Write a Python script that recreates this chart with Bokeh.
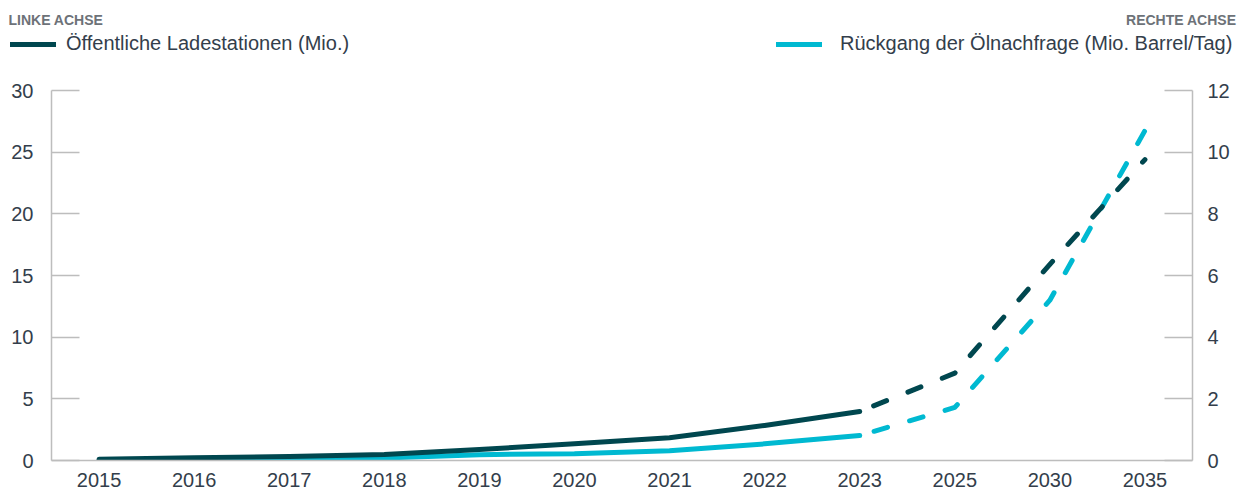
from bokeh.plotting import figure
from bokeh.layouts import column
from bokeh.models import (Range1d, LinearAxis, FixedTicker, Label, Legend,
                          LegendItem, FactorRange)
from bokeh.embed import file_html
from bokeh.resources import INLINE

# ---------------- data ----------------
years = ["2015", "2016", "2017", "2018", "2019", "2020", "2021", "2022",
         "2023", "2025", "2030", "2035"]
# left axis: public charging stations (millions)
stations = [0.1, 0.22, 0.33, 0.49, 0.89, 1.35, 1.84, 2.84, 3.97, 7.08, 15.9, 24.4]
# right axis: decline in oil demand (million barrels/day)
oil_decline = [0.0, 0.02, 0.05, 0.08, 0.19, 0.22, 0.32, 0.54, 0.81, 1.72, 5.2, 10.7]
last_actual = "2023"
left_ticks = [0, 5, 10, 15, 20, 25, 30]
right_ticks = [0, 2, 4, 6, 8, 10, 12]

# ---------------- style ----------------
DARK = "#00474f"
CYAN = "#00b9d1"
TEXT = "#333e4b"
HEAD = "#6d7278"
AXIS = "#bdbdbd"
FONT = "Liberation Sans"

W = 1238
HT = 70           # header / legend strip
HM = 489 - HT     # main chart
BL, BR, BT, BB = 51, 46, 20, 29

# ---------------- header strip ----------------
top = figure(width=W, height=HT, x_range=FactorRange(*years), y_range=Range1d(0, 30),
             output_backend="svg", toolbar_location=None,
             min_border_left=0, min_border_right=0, min_border_top=0,
             min_border_bottom=0)
top.frame_align = False
top.axis.visible = False
top.grid.visible = False
top.outline_line_color = None

key_st = top.line(years, stations, line_color=DARK, line_width=5, line_cap="round")
key_oil = top.line(years, oil_decline, line_color=CYAN, line_width=5, line_cap="round")
key_st.visible = False
key_oil.visible = False

def make_legend(label, rend, x, standoff):
    leg = Legend(items=[LegendItem(label=label, renderers=[rend])], location=(x, 15))
    leg.label_text_font = FONT
    leg.label_text_font_size = "20px"
    leg.label_text_color = TEXT
    leg.glyph_width = 46
    leg.glyph_height = 20
    leg.label_height = 20
    leg.label_standoff = standoff
    leg.padding = 0
    leg.margin = 0
    leg.spacing = 0
    leg.border_line_color = None
    leg.background_fill_alpha = 0
    leg.inactive_fill_alpha = 0
    leg.click_policy = "none"
    return leg

top.add_layout(make_legend("Öffentliche Ladestationen (Mio.)", key_st, 10, 10))
top.add_layout(make_legend("Rückgang der Ölnachfrage (Mio. Barrel/Tag)", key_oil, 776, 18))

top.add_layout(Label(x=8, y=HT - 19, x_units="screen", y_units="screen",
                     text="LINKE ACHSE", text_font=FONT, text_font_size="14px",
                     text_font_style="bold", text_color=HEAD, text_baseline="middle"))
top.add_layout(Label(x=W - 2, y=HT - 19, x_units="screen", y_units="screen",
                     text="RECHTE ACHSE", text_font=FONT, text_font_size="14px",
                     text_font_style="bold", text_color=HEAD, text_baseline="middle",
                     text_align="right"))

# ---------------- main chart ----------------
p = figure(x_range=FactorRange(*years), y_range=Range1d(0, 30),
           width=W, height=HM, output_backend="svg", toolbar_location=None,
           min_border_left=BL, min_border_right=BR,
           min_border_top=BT, min_border_bottom=BB)
p.frame_align = False
p.extra_y_ranges = {"right": Range1d(0, 12)}
p.outline_line_color = None
p.xgrid.visible = False
p.ygrid.visible = False

def style_axis(ax, ticks, standoff):
    ax.ticker = FixedTicker(ticks=ticks)
    ax.axis_line_color = AXIS
    ax.axis_line_width = 1.5
    ax.major_tick_line_color = AXIS
    ax.major_tick_line_width = 1.5
    ax.major_tick_in = 28
    ax.major_tick_out = 0
    ax.minor_tick_line_color = None
    ax.major_label_text_font = FONT
    ax.major_label_text_font_size = "20px"
    ax.major_label_text_color = TEXT
    ax.major_label_standoff = standoff

style_axis(p.yaxis[0], left_ticks, 18)
ry = LinearAxis(y_range_name="right")
style_axis(ry, right_ticks, 15)
p.add_layout(ry, "right")

xa = p.xaxis[0]
xa.axis_line_color = AXIS
xa.axis_line_width = 1.5
xa.major_tick_line_color = None
xa.minor_tick_line_color = None
xa.major_label_text_font = FONT
xa.major_label_text_font_size = "20px"
xa.major_label_text_color = TEXT
xa.major_label_standoff = 6

k = years.index(last_actual)
DASH = "14 23"

p.line(years[k:], oil_decline[k:], y_range_name="right", line_color=CYAN,
       line_width=5, line_cap="round", line_join="round",
       line_dash=DASH, line_dash_offset=22)
p.line(years[:k + 1], oil_decline[:k + 1], y_range_name="right",
       line_color=CYAN, line_width=5, line_cap="round", line_join="round")
p.line(years[k:], stations[k:], line_color=DARK, line_width=5,
       line_cap="round", line_join="round", line_dash=DASH, line_dash_offset=22)
p.line(years[:k + 1], stations[:k + 1], line_color=DARK, line_width=5,
       line_cap="round", line_join="round")

layout = column(top, p, spacing=0)
open("out.html", "w").write(file_html(layout, INLINE))
